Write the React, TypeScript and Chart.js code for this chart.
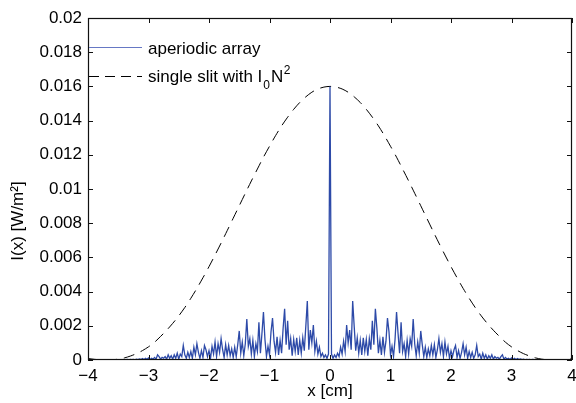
import React, { useEffect, useRef } from 'react';
import { Chart, registerables } from 'chart.js';

Chart.register(...registerables);

// Aperiodic array intensity, x >= 0 half (pattern is mirror-symmetric), in 1e-3 W/m^2
const BLUE_STEP = 0.025; // cm
const aperiodicHalf = [
  16.0,
  0.35, 0.10, 0.30, 0.15, 0.40, 0.20, 0.75, 0.35, 1.10, 0.50,
  2.05, 1.00, 1.75, 0.60, 3.45, 1.95, 0.55, 1.30, 0.40, 1.15,
  0.30, 1.30, 0.50, 1.20, 0.25, 1.25, 0.60, 2.30, 0.90, 3.00,
  1.85, 0.40, 1.15, 0.30, 1.35, 0.45, 1.10, 2.45, 1.65, 0.30,
  0.80, 0.20, 1.20, 2.80, 1.55, 0.40, 2.20, 0.50, 0.95, 0.20,
  1.15, 0.35, 1.25, 0.80, 2.40, 0.95, 0.25, 1.05, 0.40, 1.70,
  0.90, 0.20, 0.75, 0.15, 0.65, 0.25, 0.85, 0.30, 0.90, 0.15,
  0.60, 1.25, 0.45, 0.95, 0.20, 1.05, 0.35, 0.80, 0.10, 0.55,
  0.20, 0.60, 0.85, 0.15, 0.55, 0.10, 0.45, 0.95, 0.30, 0.75,
  0.10, 0.50, 0.15, 0.45, 0.10, 0.30, 0.85, 0.20, 0.35, 0.05,
  0.40, 0.10, 0.30, 0.05, 0.25, 0.10, 0.30, 0.05, 0.20, 0.10,
  0.15, 0.05, 0.20, 0.30, 0.05, 0.15, 0.05, 0.10, 0.03, 0.12,
  0.04, 0.10, 0.02, 0.08, 0.03, 0.06, 0.02, 0.05, 0.01, 0.04,
  0.02, 0.03, 0.01, 0.03, 0.02, 0.01, 0.02, 0.01, 0.01, 0.02,
  0.01, 0.01, 0.01, 0.02, 0.01, 0.01, 0.01, 0.01, 0.01, 0.01,
  0.01, 0.01, 0.01, 0.01, 0.01, 0.01, 0.01, 0.01, 0.01, 0.01,
];

// Single slit envelope (I0 N^2), x >= 0 half, in 1e-3 W/m^2
const SLIT_STEP = 0.1; // cm
const singleSlitHalf = [
  16.0, 15.96, 15.85, 15.66, 15.39, 15.06, 14.66, 14.2, 13.69, 13.12,
  12.5, 11.86, 11.17, 10.47, 9.75, 9.02, 8.29, 7.56, 6.84, 6.14,
  5.46, 4.81, 4.19, 3.61, 3.07, 2.58, 2.14, 1.74, 1.38, 1.04,
  0.77, 0.55, 0.37, 0.23, 0.12, 0.05, 0.012, 0, 0.011, 0.042, 0.087,
];

const xTicks = [-4, -3, -2, -1, 0, 1, 2, 3, 4];
const yTicks = [0, 0.002, 0.004, 0.006, 0.008, 0.01, 0.012, 0.014, 0.016, 0.018, 0.02];

const seriesNames = ['aperiodic array', 'single slit with I'];

const FONT = "'Liberation Sans', Arial, Helvetica, sans-serif";
const BLUE = '#2d4aa8';
const LEGEND_BLUE = '#6678c4';

function mirrored(step: number, half: number[]) {
  const pts: { x: number; y: number }[] = [];
  for (let i = half.length - 1; i > 0; i--) pts.push({ x: -i * step, y: half[i] * 1e-3 });
  for (let i = 0; i < half.length; i++) pts.push({ x: i * step, y: half[i] * 1e-3 });
  return pts;
}

const frame = {
  id: 'frame',
  afterDraw(chart: any) {
    const { ctx, chartArea: a, scales } = chart;
    ctx.save();
    ctx.strokeStyle = '#111';
    ctx.lineWidth = 1.2;
    ctx.strokeRect(a.left + 0.5, a.top + 0.5, a.right - a.left - 1, a.bottom - a.top - 1);
    ctx.lineWidth = 1;
    const tl = 5;
    ctx.beginPath();
    xTicks.forEach((v) => {
      const px = Math.round(scales.x.getPixelForValue(v)) + 0.5;
      ctx.moveTo(px, a.bottom);
      ctx.lineTo(px, a.bottom - tl);
      ctx.moveTo(px, a.top);
      ctx.lineTo(px, a.top + tl);
    });
    yTicks.forEach((v) => {
      const py = Math.round(scales.y.getPixelForValue(v)) + 0.5;
      ctx.moveTo(a.left, py);
      ctx.lineTo(a.left + tl, py);
      ctx.moveTo(a.right, py);
      ctx.lineTo(a.right - tl, py);
    });
    ctx.stroke();

    // axis titles
    ctx.fillStyle = '#000';
    ctx.font = `17px ${FONT}`;
    ctx.textAlign = 'center';
    ctx.textBaseline = 'middle';
    ctx.fillText('x [cm]', (a.left + a.right) / 2, 391);
    ctx.save();
    ctx.translate(18, (a.top + a.bottom) / 2 + 32);
    ctx.rotate(-Math.PI / 2);
    ctx.fillText('I(x) [W/m\u00B2]', 0, 0);
    ctx.restore();

    // legend
    const lx0 = a.left + 1;
    const lx1 = 142;
    const tx = 148;
    ctx.strokeStyle = LEGEND_BLUE;
    ctx.lineWidth = 1;
    ctx.beginPath();
    ctx.moveTo(lx0, 47.5);
    ctx.lineTo(lx1, 47.5);
    ctx.stroke();
    ctx.strokeStyle = '#000';
    ctx.setLineDash([10, 6]);
    ctx.beginPath();
    ctx.moveTo(lx0, 76.5);
    ctx.lineTo(lx1, 76.5);
    ctx.stroke();
    ctx.setLineDash([]);

    ctx.textAlign = 'left';
    ctx.textBaseline = 'alphabetic';
    ctx.font = `17px ${FONT}`;
    ctx.fillText(seriesNames[0], tx, 54);
    ctx.fillText(seriesNames[1], tx, 82);
    let w = ctx.measureText(seriesNames[1]).width;
    ctx.font = `12px ${FONT}`;
    ctx.fillText('0', tx + w + 1, 89);
    w += ctx.measureText('0').width + 2;
    ctx.font = `17px ${FONT}`;
    ctx.fillText('N', tx + w, 82);
    w += ctx.measureText('N').width + 0.5;
    ctx.font = `12px ${FONT}`;
    ctx.fillText('2', tx + w, 74);
    ctx.restore();
  },
};

export default function App() {
  const ref = useRef<HTMLCanvasElement | null>(null);

  useEffect(() => {
    if (!ref.current) return;
    const chart = new Chart(ref.current, {
      type: 'line',
      data: {
        datasets: [
          {
            label: seriesNames[0],
            data: mirrored(BLUE_STEP, aperiodicHalf),
            borderColor: BLUE,
            borderWidth: 1.3,
            pointRadius: 0,
            tension: 0,
            fill: false,
          },
          {
            label: seriesNames[1],
            data: mirrored(SLIT_STEP, singleSlitHalf),
            borderColor: '#000',
            borderWidth: 1,
            borderDash: [11, 7],
            pointRadius: 0,
            tension: 0.3,
            fill: false,
          },
        ],
      },
      options: {
        responsive: false,
        animation: false,
        layout: { padding: { top: 18, right: 4, left: 0, bottom: 0 } },
        plugins: { legend: { display: false }, tooltip: { enabled: false } },
        scales: {
          x: {
            type: 'linear',
            min: -4,
            max: 4,
            grid: { display: false, drawTicks: false },
            border: { display: false },
            afterBuildTicks: (s: any) => {
              s.ticks = xTicks.map((v) => ({ value: v }));
            },
            afterFit: (s: any) => {
              s.height = 43;
              s.paddingLeft = 0;
              s.paddingRight = 0;
            },
            ticks: {
              padding: 6,
              color: '#000',
              font: { family: FONT, size: 17 },
              callback: (v: any) => (v < 0 ? '\u2212' + Math.abs(v) : String(v)),
            },
          },
          y: {
            type: 'linear',
            min: 0,
            max: 0.02,
            grid: { display: false, drawTicks: false },
            border: { display: false },
            afterBuildTicks: (s: any) => {
              s.ticks = yTicks.map((v) => ({ value: v }));
            },
            afterFit: (s: any) => {
              s.width = 88;
              s.paddingTop = 0;
              s.paddingBottom = 0;
            },
            ticks: {
              padding: 6,
              color: '#000',
              font: { family: FONT, size: 17 },
              callback: (v: any) => String(parseFloat(Number(v).toFixed(3))),
            },
          },
        },
      },
      plugins: [frame],
    });
    return () => chart.destroy();
  }, []);

  return (
    <div style={{ position: 'absolute', left: 0, top: 0, width: 576, height: 403, background: '#fff' }}>
      <canvas ref={ref} width={576} height={403} style={{ display: 'block' }} />
    </div>
  );
}
